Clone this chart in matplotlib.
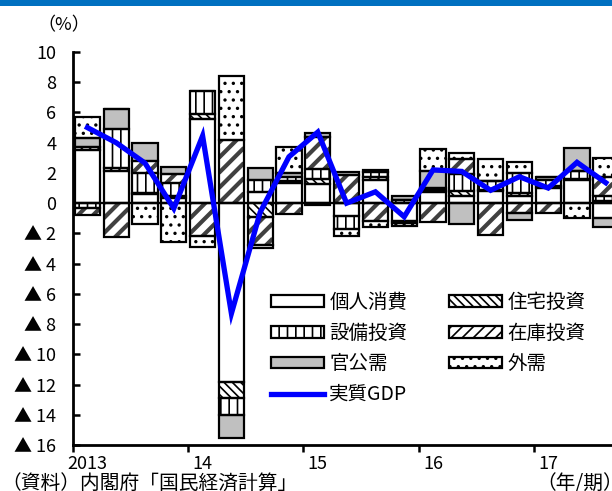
import numpy as np
import matplotlib
matplotlib.use('Agg')
import matplotlib.pyplot as plt
from matplotlib.patches import Patch, Rectangle
from matplotlib.lines import Line2D
from matplotlib.collections import LineCollection

plt.rcParams['font.family'] = ['Noto Sans CJK JP', 'DejaVu Sans']
plt.rcParams['hatch.linewidth'] = 1.2

# quarterly contributions to real GDP growth (annualised, %), 2013Q1 - 2017Q3
years = ['2013', '14', '15', '16', '17']
consumption = [3.5, 2.1, 0.6, 0.35, 5.6, -11.85, 0.75, 1.35, 1.3, -0.85, 1.55, -1.2, 0.75, 0.5, 0.8, 0.5, 1.0, 1.5, -1.0]
housing = [0.2, 0.25, 0.1, 0.1, 0.3, -1.05, -0.9, 0.1, 0.3, 0.0, 0.15, -0.1, 0.1, 0.3, 0.1, 0.15, 0.15, 0.1, 0.15]
capex = [-0.3, 2.55, 1.3, 0.9, 1.5, -1.1, 0.75, 0.3, 0.66, -0.85, 0.35, 0.2, 0.15, 1.1, 0.55, 1.35, 0.4, 0.5, 0.35]
inventory = [-0.5, -2.27, 0.8, 0.6, -2.2, 4.18, -1.9, -0.7, 2.14, 1.88, -1.2, 0.0, -1.24, 1.0, -2.12, -0.68, -0.65, 0.0, 1.2]
public = [0.6, 1.33, 1.15, 0.45, 0.0, -1.55, 0.8, 0.25, 0.22, 0.15, 0.15, 0.25, 1.1, -1.35, 0.0, -0.44, 0.2, 1.55, -0.55]
net_exports = [1.4, 0.0, -1.35, -2.6, -0.7, 4.2, -0.2, 1.7, -0.1, -0.5, -0.35, -0.2, 1.45, 0.4, 1.5, 0.75, 0.0, -1.0, 1.3]
gdp = [5.0, 4.0, 2.65, -0.35, 4.45, -7.3, -0.6, 3.07, 4.7, 0.0, 0.75, -0.9, 2.2, 2.1, 0.85, 1.75, 1.0, 2.7, 1.35]

# name, values, face, hatch (None = plain, 'stripes' = thick diagonal drawn by hand)
series = [
    ('個人消費', consumption, 'white', None),
    ('住宅投資', housing, 'white', '\\\\\\\\'),
    ('設備投資', capex, 'white', '||'),
    ('在庫投資', inventory, 'white', 'stripes'),
    ('官公需', public, '#C0C0C0', None),
    ('外需', net_exports, 'white', '..'),
]

width = 0.87
fig = plt.figure(figsize=(6.12, 4.91), dpi=100)
ax = fig.add_axes([73 / 612, 1 - 445 / 491, 576 / 612, (445 - 52) / 491])
ax.set_xlim(-0.5, 19.5)
ax.set_ylim(-16, 10)

# slope giving 45 degrees on screen (28.75 px per quarter, 15.1 px per point)
k = (576 / 20) / (393 / 26)

x = np.arange(len(gdp))
pos_base = np.zeros(len(gdp))
neg_base = np.zeros(len(gdp))
handles = {}
for name, vals, face, hatch in series:
    vals = np.array(vals)
    bottom = np.where(vals >= 0, pos_base, neg_base)
    if hatch == 'stripes':
        bars = ax.bar(x, vals, width, bottom=bottom, color=face, linewidth=0, zorder=2)
        for xi, b0, v, bar in zip(x, bottom, vals, bars):
            lo, hi = min(b0, b0 + v), max(b0, b0 + v)
            segs = [[(xi - width / 2, c), (xi + width / 2, c + k * width)]
                    for c in np.arange(np.floor(lo) - 2, hi + 1, 1.0)]
            lc = LineCollection(segs, colors='#404040', linewidths=3, zorder=2.5)
            ax.add_collection(lc)
            lc.set_clip_path(bar)
        handles[name] = Patch(facecolor=face, edgecolor='black', hatch='///', linewidth=1.6)
    else:
        ax.bar(x, vals, width, bottom=bottom, color=face, edgecolor='black',
               hatch=hatch, linewidth=0, zorder=2)
        handles[name] = Patch(facecolor=face, edgecolor='black', hatch=hatch, linewidth=1.6)
    # black outline on top
    ax.bar(x, vals, width, bottom=bottom, fill=False, edgecolor='black',
           linewidth=1.6, zorder=3)
    pos_base += np.where(vals >= 0, vals, 0)
    neg_base += np.where(vals < 0, vals, 0)

ax.axhline(0, color='black', linewidth=1.6, zorder=4)
ax.plot(x, gdp, color='#0000FF', linewidth=3.8, zorder=5, solid_joinstyle='miter')

# y axis with triangle for negatives
yt = np.arange(-16, 11, 2)
ax.set_yticks(yt)
ax.set_yticklabels([str(v) if v >= 0 else '▲ ' + str(-v) for v in yt])
ax.tick_params(axis='y', direction='in', length=5, width=1.8, pad=12, labelsize=13)

# year labels under first quarter, tick marks at year boundaries
ax.set_xticks(np.arange(0, 20, 4))
ax.set_xticklabels(years)
ax.set_xticks(np.arange(-0.5, 20, 4), minor=True)
ax.tick_params(axis='x', which='major', length=0, pad=7, labelsize=13)
ax.tick_params(axis='x', which='minor', direction='out', length=5, width=1.8)

for s in ['top', 'right']:
    ax.spines[s].set_visible(False)
ax.spines['left'].set_linewidth(2)
ax.spines['bottom'].set_linewidth(2)

gdp_handle = Line2D([], [], color='#0000FF', linewidth=3.8)
leg_names = ['個人消費', '設備投資', '官公需', '実質GDP', '住宅投資', '在庫投資', '外需']
leg_handles = [gdp_handle if n == '実質GDP' else handles[n] for n in leg_names]
fig.legend(leg_handles, leg_names, ncol=2, loc='upper left',
           bbox_to_anchor=(271 / 612, 1 - 292 / 491), frameon=False,
           fontsize=14, handlelength=2.7, handleheight=0.55, handletextpad=0.3,
           labelspacing=0.5, columnspacing=2.15, borderpad=0, borderaxespad=0)

fig.text(64 / 612, 1 - 25 / 491, '（%）', fontsize=13, ha='center', va='center')
fig.text(0.002, 1 - 484 / 491, '（資料）内閣府「国民経済計算」', fontsize=14.2, va='center')
fig.text(536 / 612, 1 - 484 / 491, '（年/期）', fontsize=14.2, va='center')

# blue band across the top
fig.add_artist(Rectangle((0, 1 - 5.5 / 491), 1, 5.5 / 491, transform=fig.transFigure,
                         color='#0070C0', linewidth=0))

plt.savefig('out.png', dpi=100)
